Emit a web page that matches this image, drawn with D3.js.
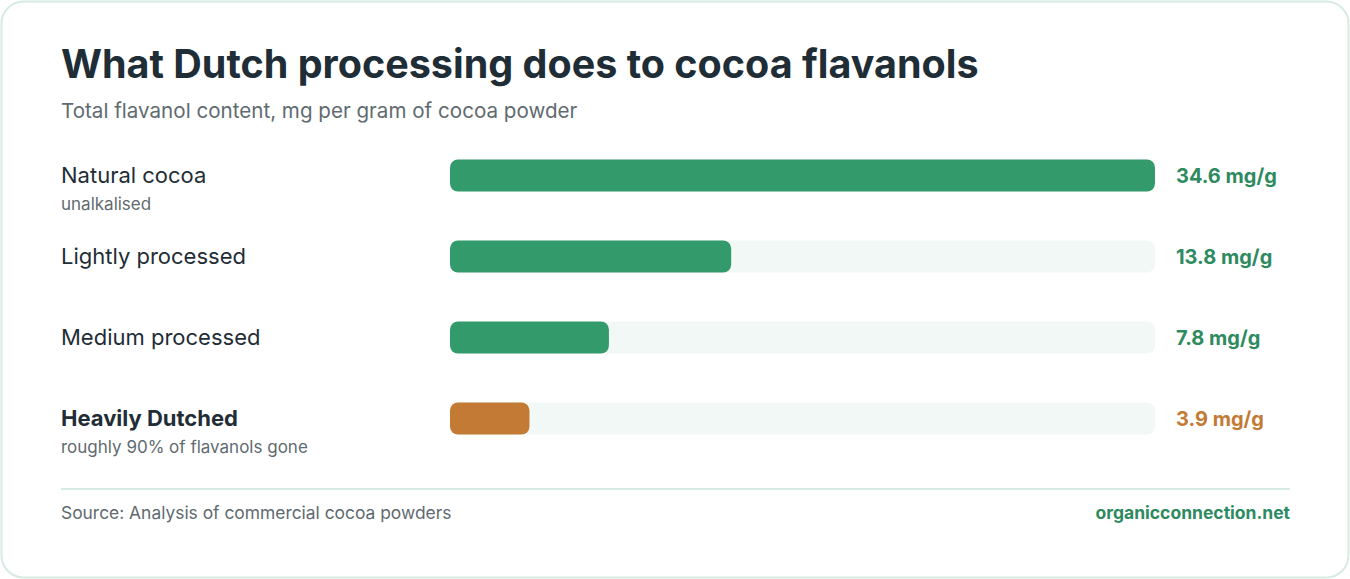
<!DOCTYPE html>
<html><head><meta charset="utf-8">
<script src="https://cdn.jsdelivr.net/npm/d3@7"></script>
<style>body{margin:0;background:#fff;font-family:Inter,"Noto Sans",sans-serif}</style>
</head><body><div id="chart"></div>
<script>
const categories = ["Natural cocoa", "Lightly processed", "Medium processed", "Heavily Dutched"];
const sublabels = ["unalkalised", "", "", "roughly 90% of flavanols gone"];
const values = [34.6, 13.8, 7.8, 3.9];
const highlight = [false, false, false, true];

const width = 1350, height = 579;
const svg = d3.select("#chart").append("svg").attr("width", width).attr("height", height);

svg.append("rect").attr("x", 1.5).attr("y", 1.5).attr("width", width - 3).attr("height", height - 3)
  .attr("rx", 22).attr("fill", "#fff").attr("stroke", "#d6ebe2").attr("stroke-width", 2);

svg.append("text").attr("x", 61).attr("y", 78).text("What Dutch processing does to cocoa flavanols")
  .attr("font-size", 39.5).attr("font-weight", 700).attr("fill", "#1f2d36");
svg.append("text").attr("x", 61).attr("y", 118).text("Total flavanol content, mg per gram of cocoa powder")
  .attr("font-size", 20.6).attr("fill", "#5f6b70");

const x = d3.scaleLinear().domain([0, d3.max(values)]).range([450, 1155]);
const y = d3.scaleBand().domain(categories).range([135, 459]).paddingInner(0);
const bh = 32;
const green = "#339b6b", orange = "#c27a35";

const rows = svg.selectAll("g.row").data(categories).enter().append("g").attr("class", "row")
  .attr("transform", d => `translate(0,${y(d) + y.bandwidth() / 2})`);

rows.append("rect").attr("x", x(0)).attr("y", -bh / 2).attr("width", x.range()[1] - x(0)).attr("height", bh)
  .attr("rx", 8).attr("fill", "#f1f8f5");
rows.append("rect").attr("x", x(0)).attr("y", -bh / 2).attr("width", (d, i) => x(values[i]) - x(0)).attr("height", bh)
  .attr("rx", 8).attr("fill", (d, i) => highlight[i] ? orange : green);
rows.append("text").attr("x", 1176).attr("y", 7).text((d, i) => values[i] + " mg/g")
  .attr("font-size", 20).attr("font-weight", 700).attr("fill", (d, i) => highlight[i] ? orange : "#2e8a5f");
rows.append("text").attr("x", 61).attr("y", 7).text(d => d)
  .attr("font-size", 22).attr("font-weight", (d, i) => highlight[i] ? 700 : 400).attr("fill", "#1f2d36");
rows.append("text").attr("x", 61).attr("y", 34).text((d, i) => sublabels[i])
  .attr("font-size", 17).attr("fill", "#5f6b70");

svg.append("line").attr("x1", 61).attr("x2", 1290).attr("y1", 489).attr("y2", 489)
  .attr("stroke", "#d6ebe2").attr("stroke-width", 2);
svg.append("text").attr("x", 61).attr("y", 519).text("Source: Analysis of commercial cocoa powders")
  .attr("font-size", 17.4).attr("fill", "#5f6b70");
svg.append("text").attr("x", 1290).attr("y", 519).attr("text-anchor", "end").text("organicconnection.net")
  .attr("font-size", 17.5).attr("font-weight", 700).attr("fill", "#2e8a5f");
</script></body></html>
